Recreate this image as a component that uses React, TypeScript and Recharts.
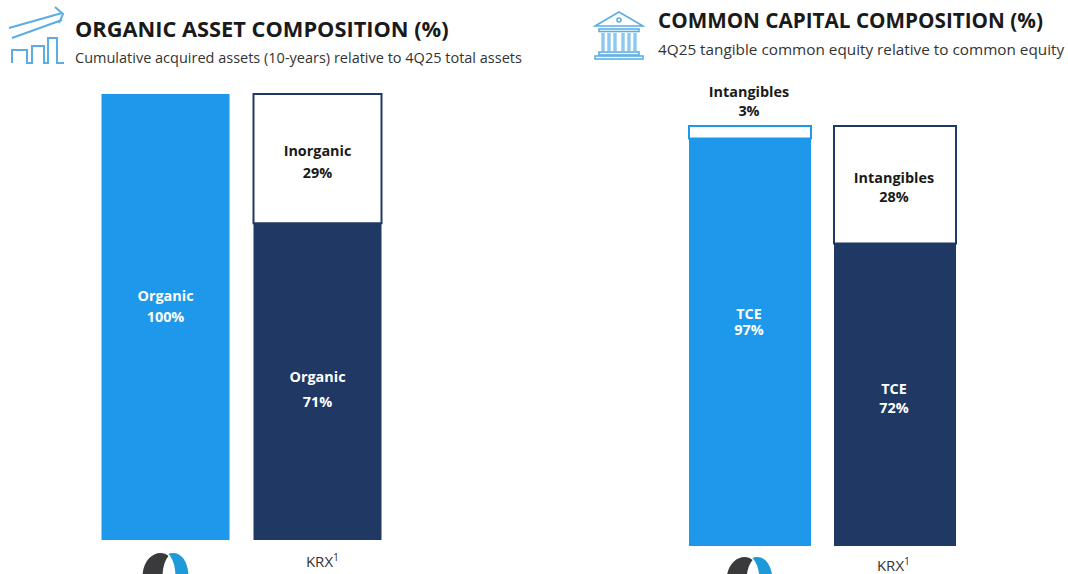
import { BarChart, Bar, XAxis, YAxis, Cell, LabelList } from 'recharts';

const FONT = '"Open Sans", sans-serif';
const BLUE = '#1e98ea';
const NAVY = '#1f3864';
const ICON = '#5aaee4';

// Shared categories; the first one is the company logo, drawn instead of a text tick
const categories = ['logo', 'KRX'];
const barColors = [BLUE, NAVY];

const assetLowerName = 'Organic';
const assetUpperName = 'Inorganic';
const assetLower = [100, 71];
const assetUpper = [0, 29];

const capitalLowerName = 'TCE';
const capitalUpperName = 'Intangibles';
const capitalLower = [97, 72];
const capitalUpper = [3, 28];

const buildRows = (lower: number[], upper: number[]) =>
  categories.map((name, i) => ({ name, lower: lower[i], upper: upper[i] }));

// Small company mark under the first bar
function Logo({ x, y }: { x: number; y: number }) {
  return (
    <g transform={`translate(${x}, ${y})`}>
      <path d="M-23 24 C-23 9 -14 0 -5 0 C-2 0 1 1 3 3 C-1 8 -3 15 -3 24 Z" fill="#3a3a3c" />
      <path d="M23 24 C23 9 16 0 8 0 C6 0 4 0 3 1 C8 6 10 15 10 24 Z" fill="#1f9ad8" />
    </g>
  );
}

function CategoryTick({ x, y, payload, logoDy, textDy, textDx }: any) {
  if (payload.value === 'logo') return <Logo x={x} y={y + logoDy} />;
  return (
    <text x={x + textDx} y={y + textDy} textAnchor="middle" fontFamily={FONT} fontSize={15} fill="#333">
      {payload.value}
      <tspan dy={-6} fontSize={10.5}>1</tspan>
    </text>
  );
}

// Two-line name / percent label, shifted per category from the segment centre.
// Zero-height segments are skipped, so the index can't be trusted for the upper
// series of a panel with an empty segment; those lists repeat their one entry.
function SegmentLabel({ x, y, width, height, index, value, name, color, shift, gap, dx }: any) {
  if (!value) return null;
  const cx = x + width / 2 + dx;
  const cy = y + height / 2 + shift[index];
  return (
    <text textAnchor="middle" fontFamily={FONT} fontWeight={700} fontSize={14.4} fill={color}>
      <tspan x={cx} y={cy - gap[index] / 2 + 5}>{name}</tspan>
      <tspan x={cx} y={cy + gap[index] / 2 + 5}>{`${value}%`}</tspan>
    </text>
  );
}

type PanelProps = {
  left: number;
  margin: { top: number; right: number; bottom: number; left: number };
  barSize: number;
  axisHeight: number;
  rows: { name: string; lower: number; upper: number }[];
  lowerName: string;
  upperName: string;
  lowerShift: number[];
  lowerGap: number[];
  upperShift: number[];
  upperGap: number[];
  logoDy: number;
  textDy: number;
  textDx: number;
  labelDx: number;
};

function Panel(p: PanelProps) {
  return (
    <div style={{ position: 'absolute', left: p.left, top: 0 }}>
      <BarChart width={534} height={574} data={p.rows} margin={p.margin} barCategoryGap={0} barSize={p.barSize}>
        <XAxis
          dataKey="name"
          interval={0}
          height={p.axisHeight}
          axisLine={false}
          tickLine={false}
          tick={<CategoryTick logoDy={p.logoDy} textDy={p.textDy} textDx={p.textDx} />}
        />
        <YAxis hide domain={[0, 100]} />
        <Bar dataKey="lower" stackId="a" isAnimationActive={false}>
          {p.rows.map((r, i) => (
            <Cell key={r.name} fill={barColors[i]} />
          ))}
          <LabelList
            dataKey="lower"
            content={<SegmentLabel name={p.lowerName} color="#fff" shift={p.lowerShift} gap={p.lowerGap} dx={p.labelDx} />}
          />
        </Bar>
        <Bar dataKey="upper" stackId="a" isAnimationActive={false}>
          {p.rows.map((r, i) => (
            <Cell key={r.name} fill="#fff" stroke={barColors[i]} strokeWidth={2} />
          ))}
          <LabelList
            dataKey="upper"
            content={<SegmentLabel name={p.upperName} color="#1a1a1a" shift={p.upperShift} gap={p.upperGap} dx={p.labelDx} />}
          />
        </Bar>
      </BarChart>
    </div>
  );
}

function Heading({ left, top, title, sub, titleSize, subSize, subGap }: any) {
  return (
    <div style={{ position: 'absolute', left, top, fontFamily: FONT, whiteSpace: 'nowrap' }}>
      <div style={{ fontSize: titleSize, fontWeight: 700, color: '#1a1a1a', lineHeight: '28px' }}>{title}</div>
      <div style={{ fontSize: subSize, color: '#333', lineHeight: '20px', marginTop: subGap }}>{sub}</div>
    </div>
  );
}

function GrowthIcon() {
  return (
    <svg style={{ position: 'absolute', left: 8, top: 5 }} width={60} height={62} fill="none" stroke={ICON} strokeWidth={2}>
      <path d="M1 23 L54 8 M47 2 L55 9 L51 18 M4 33 L54 15" />
      <path d="M4 58 V45 H19 V58 H24 V41 H36 V58 H40 V33 H49 V58 H56" />
    </svg>
  );
}

function BankIcon() {
  return (
    <svg style={{ position: 'absolute', left: 593, top: 9 }} width={52} height={52} fill="none" stroke={ICON} strokeWidth={1.6}>
      <path d="M2 17 L26 3 L50 17 Z" />
      <circle cx={26} cy={11} r={2} />
      <rect x={6} y={20} width={40} height={2.5} />
      <path d="M10 24 V42 M16 24 V42 M22 24 V42 M30 24 V42 M36 24 V42 M42 24 V42" strokeWidth={3.4} stroke="#8cc8ef" />
      <rect x={6} y={43} width={40} height={3} />
      <rect x={2} y={47} width={48} height={3} />
    </svg>
  );
}

export default function App() {
  return (
    <div style={{ position: 'absolute', left: 0, top: 0, width: 1068, height: 574, overflow: 'hidden', background: '#fff' }}>
      <GrowthIcon />
      <BankIcon />
      <Heading
        left={75}
        top={15}
        title="ORGANIC ASSET COMPOSITION (%)"
        sub="Cumulative acquired assets (10-years) relative to 4Q25 total assets"
        titleSize={21.8}
        subSize={14.5}
        subGap={5}
      />
      <Heading
        left={658}
        top={6}
        title="COMMON CAPITAL COMPOSITION (%)"
        sub="4Q25 tangible common equity relative to common equity"
        titleSize={20.7}
        subSize={15.3}
        subGap={5}
      />
      <Panel
        left={0}
        margin={{ top: 94, right: 140.5, bottom: 0, left: 89.5 }}
        barSize={128}
        axisHeight={34}
        rows={buildRows(assetLower, assetUpper)}
        lowerName={assetLowerName}
        upperName={assetUpperName}
        lowerShift={[-11, 8]}
        lowerGap={[21, 25]}
        upperShift={[3, 3]}
        upperGap={[22, 22]}
        logoDy={5}
        textDy={19}
        textDx={5}
        labelDx={0}
      />
      <Panel
        left={534}
        margin={{ top: 126, right: 101, bottom: 0, left: 143 }}
        barSize={122}
        axisHeight={28}
        rows={buildRows(capitalLower, capitalUpper)}
        lowerName={capitalLowerName}
        upperName={capitalUpperName}
        lowerShift={[-20, 4]}
        lowerGap={[16, 19]}
        upperShift={[-31, 3]}
        upperGap={[19, 19]}
        logoDy={3}
        textDy={17}
        textDx={-1}
        labelDx={-1}
      />
    </div>
  );
}
